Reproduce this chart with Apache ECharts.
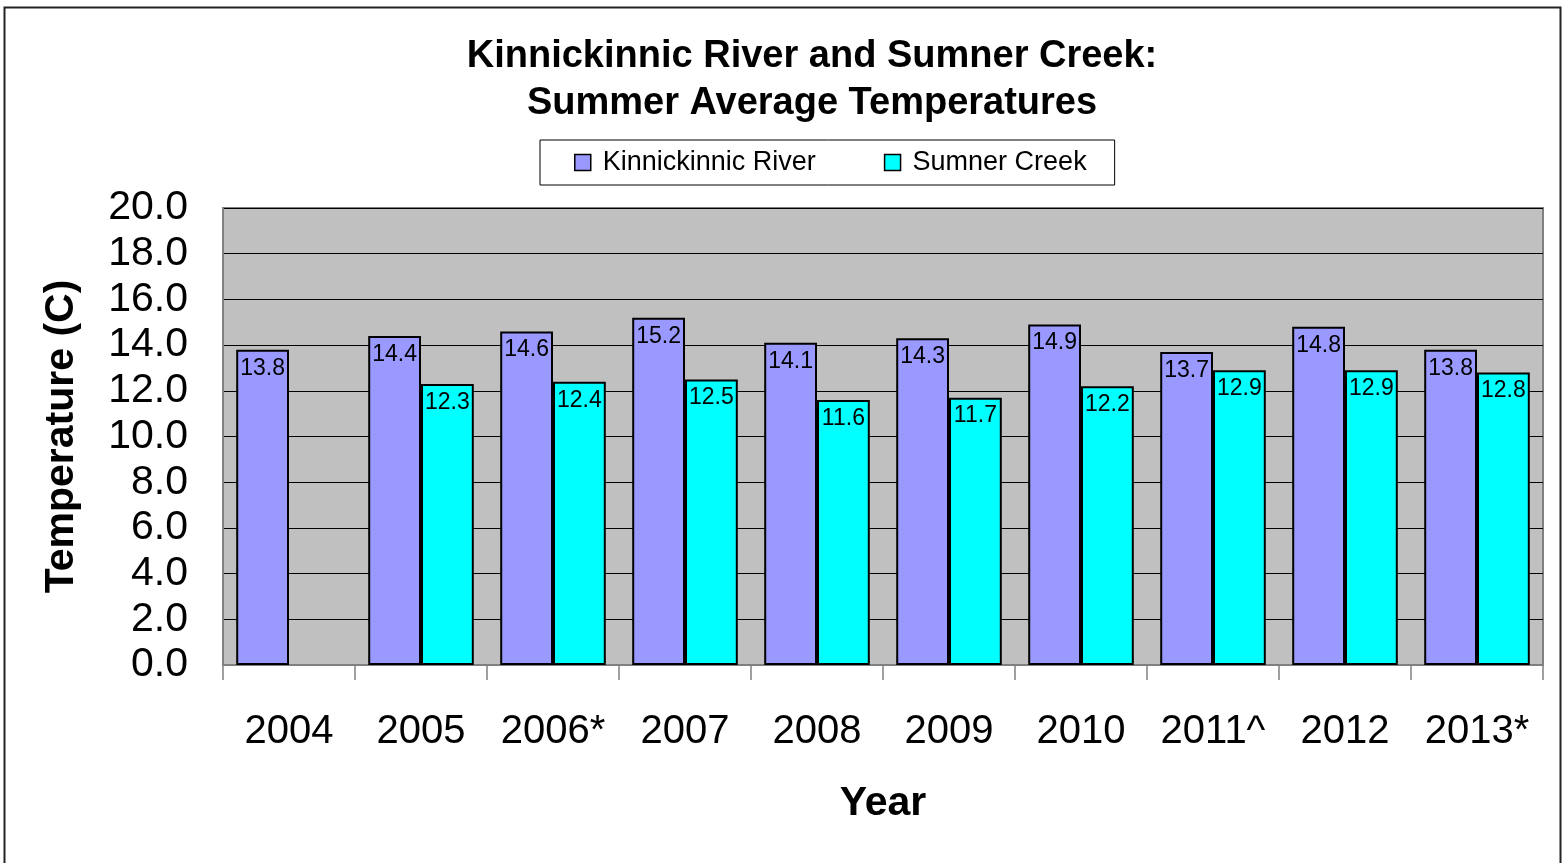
<!DOCTYPE html>
<html>
<head>
<meta charset="utf-8">
<script src="https://cdn.jsdelivr.net/npm/echarts@6/dist/echarts.min.js"></script>
<style>
  html, body { margin: 0; padding: 0; background: #fff; }
  #chart { width: 1567px; height: 863px; }
</style>
</head>
<body>
<div id="chart"></div>
<script>
// chart data
const years = ["2004", "2005", "2006*", "2007", "2008", "2009", "2010", "2011^", "2012", "2013*"];
const kinnickinnic = [13.8, 14.4, 14.6, 15.2, 14.1, 14.3, 14.9, 13.7, 14.8, 13.8];
const sumner = [null, 12.3, 12.4, 12.5, 11.6, 11.7, 12.2, 12.9, 12.9, 12.8];
const seriesNames = ["Kinnickinnic River", "Sumner Creek"];
const seriesColors = ["#9999ff", "#00ffff"];

const font = "Arial, 'Liberation Sans', sans-serif";

const myChart = echarts.init(document.getElementById("chart"));

const barLabel = {
  show: true,
  position: "insideTop",
  distance: 7,
  color: "#000",
  fontSize: 23,
  fontFamily: font,
  formatter: (p) => p.value.toFixed(1),
};

myChart.setOption({
  animation: false,
  backgroundColor: "#fff",
  graphic: [
    {
      type: "rect",
      shape: { x: 4.5, y: 7.5, width: 1556, height: 870 },
      style: { fill: "none", stroke: "#222", lineWidth: 2 },
      silent: true,
    },
  ],
  title: {
    text: "Kinnickinnic River and Sumner Creek:\nSummer Average Temperatures",
    left: 807,
    textAlign: "center",
    top: 28,
    textStyle: {
      fontFamily: font,
      fontWeight: "bold",
      fontSize: 38,
      lineHeight: 47,
      color: "#000",
    },
  },
  legend: {
    data: seriesNames,
    left: 540,
    top: 140,
    orient: "horizontal",
    icon: "rect",
    itemWidth: 16,
    itemHeight: 16,
    itemGap: 68,
    padding: [7, 28, 7, 34],
    borderColor: "#000",
    borderWidth: 1,
    backgroundColor: "#fff",
    itemStyle: { borderColor: "#000", borderWidth: 1.5 },
    textStyle: {
      fontFamily: font,
      fontSize: 27,
      lineHeight: 31,
      color: "#000",
      padding: [0, 0, 0, 7],
    },
  },
  grid: {
    left: 223,
    right: 24,
    top: 208,
    bottom: 198,
    show: true,
    backgroundColor: "#c0c0c0",
    borderColor: "#808080",
    borderWidth: 2,
  },
  xAxis: {
    type: "category",
    data: years,
    name: "Year",
    nameLocation: "middle",
    nameGap: 118,
    nameTextStyle: {
      fontFamily: font,
      fontWeight: "bold",
      fontSize: 41,
      color: "#000",
    },
    axisLine: { lineStyle: { color: "#808080", width: 2 } },
    axisTick: { show: true, interval: 0, length: 15, lineStyle: { color: "#808080", width: 1.5 } },
    axisLabel: {
      interval: 0,
      margin: 47,
      fontFamily: font,
      fontSize: 40,
      color: "#000",
    },
  },
  yAxis: {
    type: "value",
    min: 0,
    max: 20,
    interval: 2,
    name: "Temperature (C)",
    nameLocation: "middle",
    nameGap: 141,
    nameTextStyle: {
      fontFamily: font,
      fontWeight: "bold",
      fontSize: 41,
      color: "#000",
    },
    axisLine: { show: true, lineStyle: { color: "#808080", width: 2 } },
    axisTick: { show: false },
    splitLine: { show: true, lineStyle: { color: "#000", width: 1.2 } },
    axisLabel: {
      margin: 35,
      fontFamily: font,
      fontSize: 41,
      color: "#000",
      formatter: (v) => v.toFixed(1),
    },
  },
  series: [
    {
      name: seriesNames[0],
      type: "bar",
      data: kinnickinnic,
      barGap: "0%",
      barCategoryGap: "20%",
      itemStyle: { color: seriesColors[0], borderColor: "#000", borderWidth: 2 },
      label: barLabel,
    },
    {
      name: seriesNames[1],
      type: "bar",
      data: sumner,
      itemStyle: { color: seriesColors[1], borderColor: "#000", borderWidth: 2 },
      label: barLabel,
    },
  ],
});
</script>
</body>
</html>
